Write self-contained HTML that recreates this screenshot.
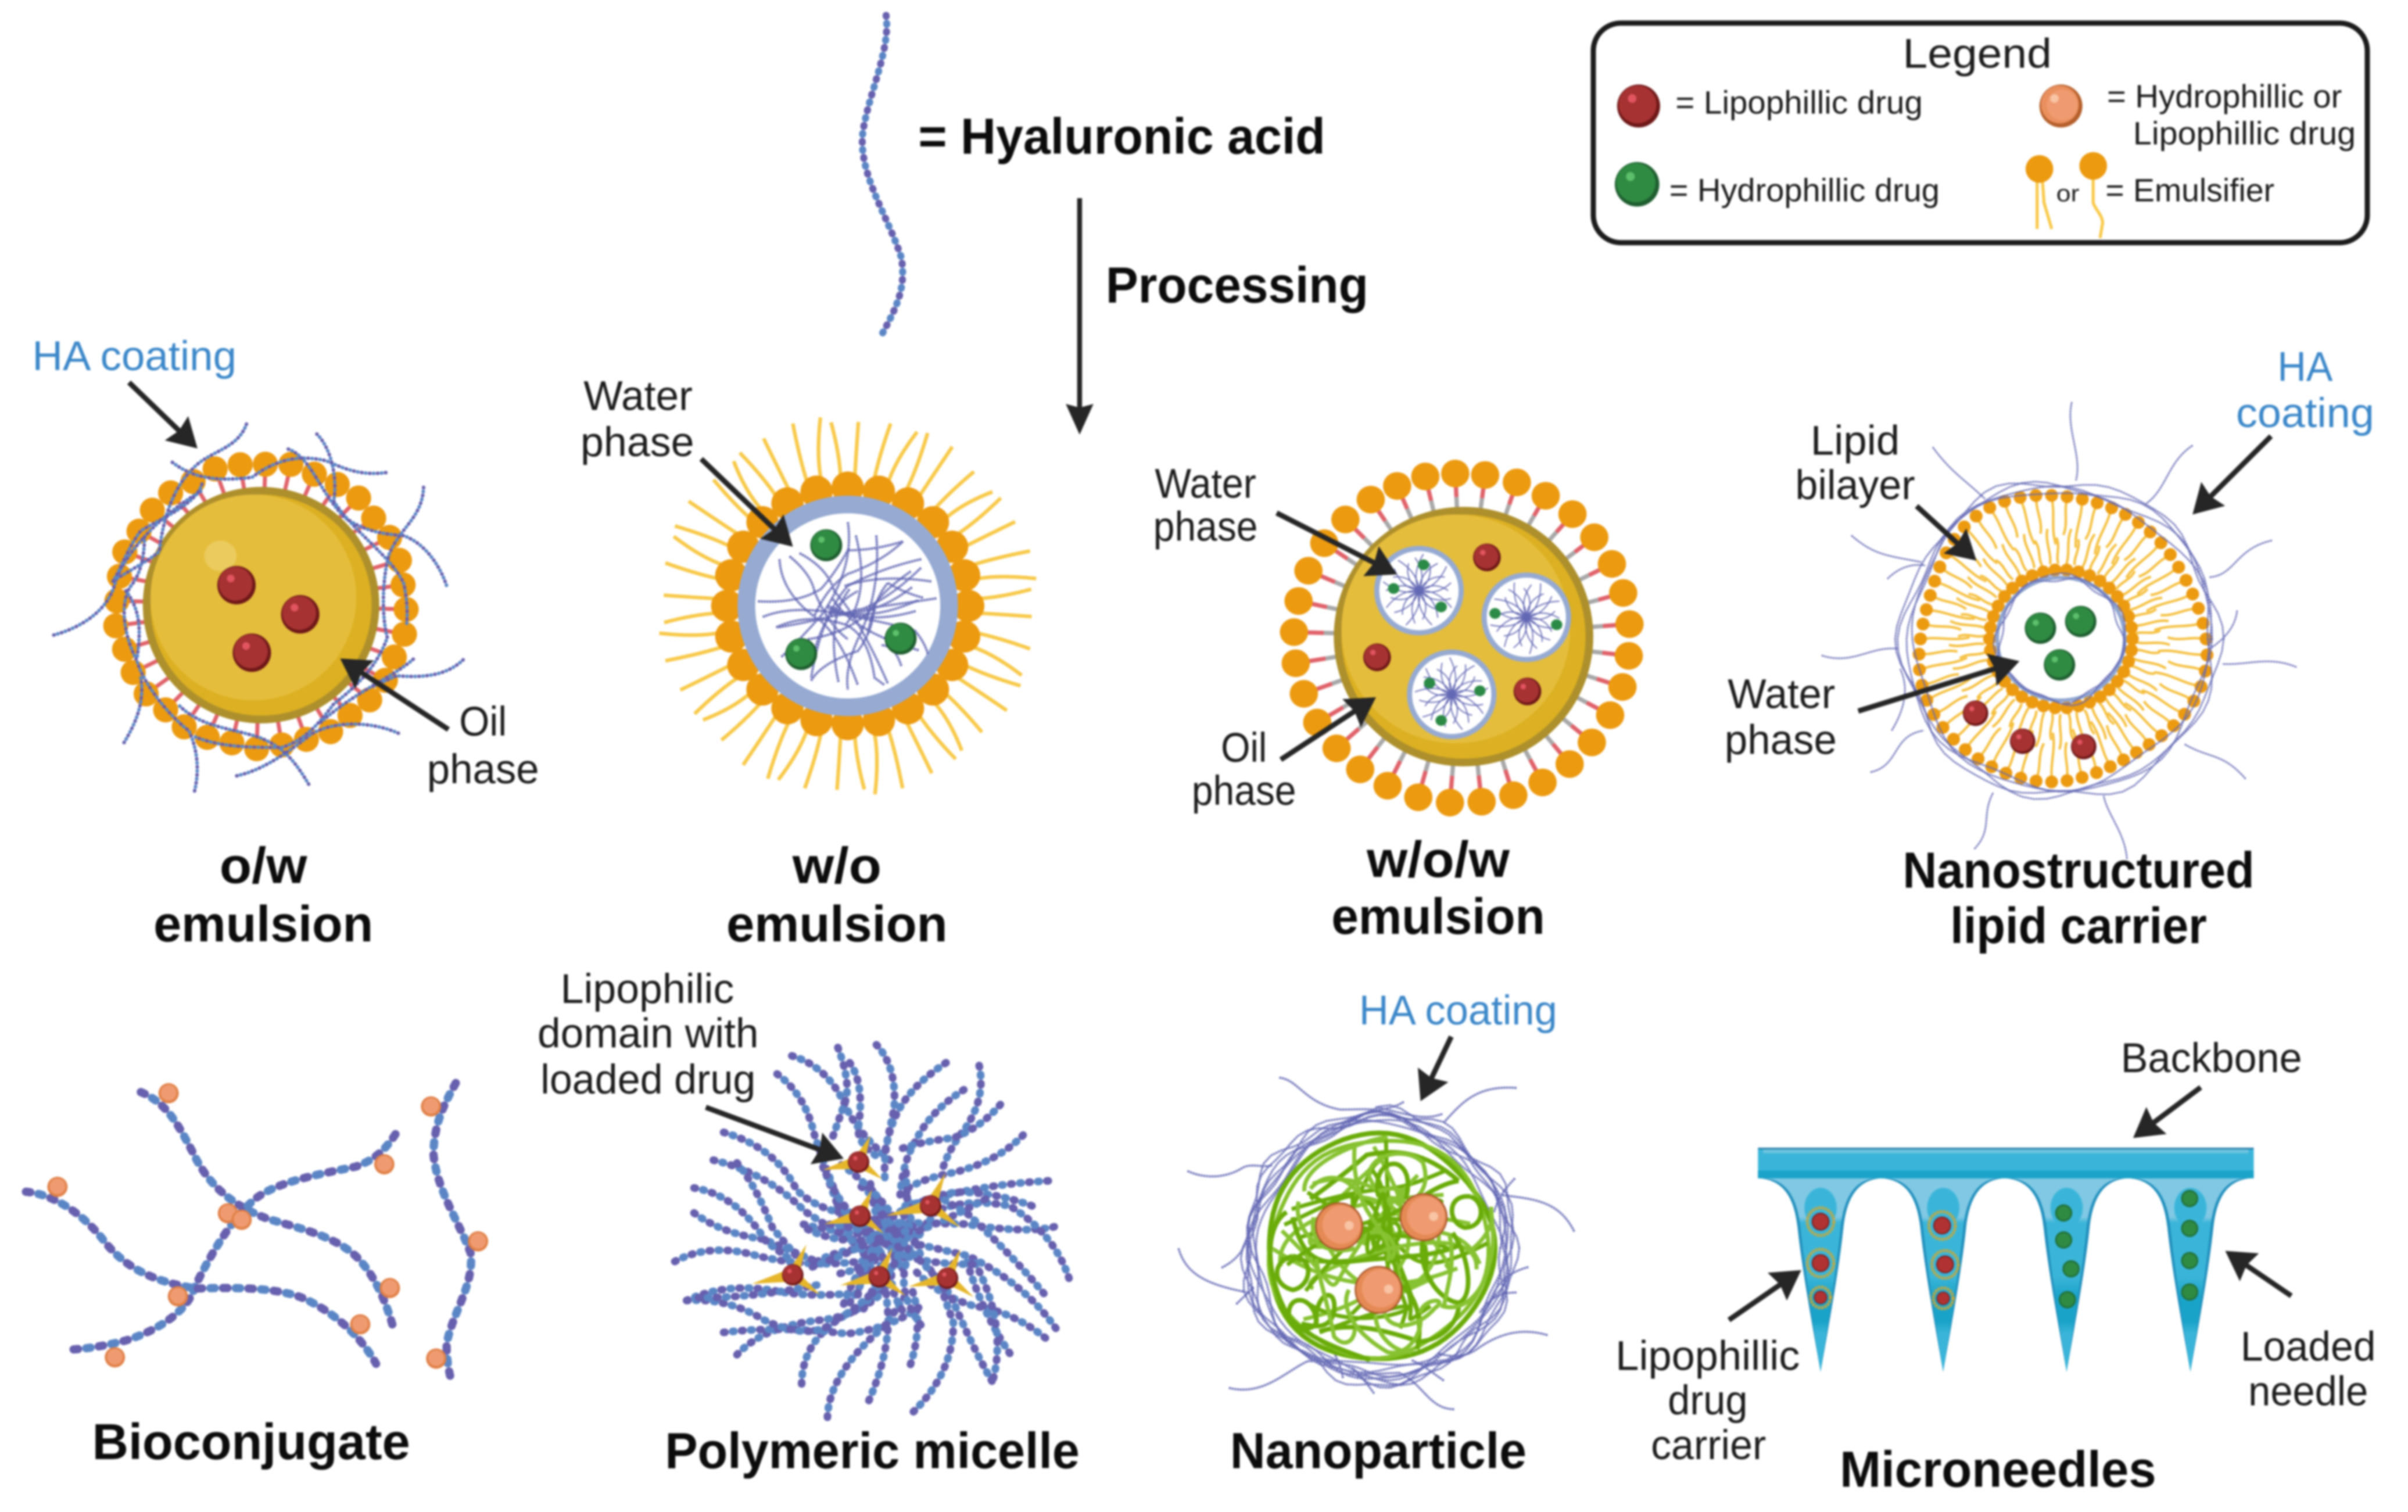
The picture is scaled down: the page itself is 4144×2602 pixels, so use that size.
<!DOCTYPE html>
<html><head><meta charset="utf-8"><title>Hyaluronic acid formulations</title>
<style>
html,body{margin:0;padding:0;background:#fff}
svg{display:block;width:4144px;height:2602px;filter:blur(1.5px)}
text{font-family:"Liberation Sans",sans-serif;fill:#1c1c1c;font-size:27px}
text.b{font-weight:bold;font-size:33px;fill:#0c0c0c}
text.h{fill:#3b87c9}
text.l{font-size:21px}
</style></head><body>
<svg id="s" xmlns="http://www.w3.org/2000/svg" viewBox="0 0 1568 984.5">
<defs>
<linearGradient id="ng" x1="0" y1="0" x2="0" y2="1">
<stop offset="0" stop-color="#80c8e4"/><stop offset=".2" stop-color="#80c8e4"/><stop offset=".23" stop-color="#3ab5d9"/><stop offset=".51" stop-color="#3ab5d9"/><stop offset=".61" stop-color="#1aa3c9"/><stop offset=".74" stop-color="#1aa3c9"/><stop offset=".8" stop-color="#3ab5d9"/><stop offset="1" stop-color="#3ab5d9"/>
</linearGradient>
</defs>
<rect width="1568" height="985" fill="#fff"/>
<g id="art"></g>
<g id="txt">
<text class="b" x="598" y="100" textLength="265" lengthAdjust="spacingAndGlyphs">= Hyaluronic acid</text>
<text class="b" x="720" y="197" textLength="171" lengthAdjust="spacingAndGlyphs">Processing</text>
<text class="h" x="21" y="241" textLength="133" lengthAdjust="spacingAndGlyphs">HA coating</text>
<text x="299" y="479" textLength="31" lengthAdjust="spacingAndGlyphs">Oil</text>
<text x="278" y="510" textLength="73" lengthAdjust="spacingAndGlyphs">phase</text>
<text x="380" y="267" textLength="71" lengthAdjust="spacingAndGlyphs">Water</text>
<text x="378" y="297" textLength="74" lengthAdjust="spacingAndGlyphs">phase</text>
<text x="752" y="324" textLength="66" lengthAdjust="spacingAndGlyphs">Water</text>
<text x="751" y="352" textLength="68" lengthAdjust="spacingAndGlyphs">phase</text>
<text x="795" y="496" textLength="30" lengthAdjust="spacingAndGlyphs">Oil</text>
<text x="776" y="524" textLength="68" lengthAdjust="spacingAndGlyphs">phase</text>
<text x="1179" y="296" textLength="58" lengthAdjust="spacingAndGlyphs">Lipid</text>
<text x="1169" y="325" textLength="78" lengthAdjust="spacingAndGlyphs">bilayer</text>
<text class="h" x="1483" y="248" textLength="36" lengthAdjust="spacingAndGlyphs">HA</text>
<text class="h" x="1456" y="278" textLength="90" lengthAdjust="spacingAndGlyphs">coating</text>
<text x="1125" y="461" textLength="70" lengthAdjust="spacingAndGlyphs">Water</text>
<text x="1123" y="491" textLength="73" lengthAdjust="spacingAndGlyphs">phase</text>
<text class="b" x="143" y="575" textLength="57" lengthAdjust="spacingAndGlyphs">o/w</text>
<text class="b" x="100" y="613" textLength="143" lengthAdjust="spacingAndGlyphs">emulsion</text>
<text class="b" x="516" y="575" textLength="58" lengthAdjust="spacingAndGlyphs">w/o</text>
<text class="b" x="473" y="613" textLength="144" lengthAdjust="spacingAndGlyphs">emulsion</text>
<text class="b" x="890" y="571" textLength="93" lengthAdjust="spacingAndGlyphs">w/o/w</text>
<text class="b" x="867" y="608" textLength="139" lengthAdjust="spacingAndGlyphs">emulsion</text>
<text class="b" x="1239" y="578" textLength="229" lengthAdjust="spacingAndGlyphs">Nanostructured</text>
<text class="b" x="1270" y="614" textLength="167" lengthAdjust="spacingAndGlyphs">lipid carrier</text>
<text x="1239" y="44" textLength="97" lengthAdjust="spacingAndGlyphs">Legend</text>
<text class="l" x="1091" y="74" textLength="161" lengthAdjust="spacingAndGlyphs">= Lipophillic drug</text>
<text class="l" x="1372" y="70" textLength="153" lengthAdjust="spacingAndGlyphs">= Hydrophillic or</text>
<text class="l" x="1389" y="94" textLength="145" lengthAdjust="spacingAndGlyphs">Lipophillic drug</text>
<text class="l" x="1087" y="131" textLength="176" lengthAdjust="spacingAndGlyphs">= Hydrophillic drug</text>
<text class="l" x="1339" y="131" style="font-size:15px" textLength="15" lengthAdjust="spacingAndGlyphs">or</text>
<text class="l" x="1371" y="131" textLength="110" lengthAdjust="spacingAndGlyphs">= Emulsifier</text>
<text x="365" y="653" textLength="113" lengthAdjust="spacingAndGlyphs">Lipophilic</text>
<text x="350" y="682" textLength="144" lengthAdjust="spacingAndGlyphs">domain with</text>
<text x="352" y="712" textLength="140" lengthAdjust="spacingAndGlyphs">loaded drug</text>
<text class="h" x="885" y="667" textLength="129" lengthAdjust="spacingAndGlyphs">HA coating</text>
<text x="1381" y="698" textLength="118" lengthAdjust="spacingAndGlyphs">Backbone</text>
<text x="1052" y="892" textLength="120" lengthAdjust="spacingAndGlyphs">Lipophillic</text>
<text x="1086" y="921" textLength="52" lengthAdjust="spacingAndGlyphs">drug</text>
<text x="1075" y="950" textLength="75" lengthAdjust="spacingAndGlyphs">carrier</text>
<text x="1459" y="886" textLength="88" lengthAdjust="spacingAndGlyphs">Loaded</text>
<text x="1464" y="915" textLength="78" lengthAdjust="spacingAndGlyphs">needle</text>
<text class="b" x="60" y="950" textLength="207" lengthAdjust="spacingAndGlyphs">Bioconjugate</text>
<text class="b" x="433" y="956" textLength="270" lengthAdjust="spacingAndGlyphs">Polymeric micelle</text>
<text class="b" x="801" y="956" textLength="193" lengthAdjust="spacingAndGlyphs">Nanoparticle</text>
<text class="b" x="1198" y="968" textLength="206" lengthAdjust="spacingAndGlyphs">Microneedles</text>
</g>
</svg>
<script>
(function(){
var NS="http://www.w3.org/2000/svg",art=document.getElementById("art"),K=4144/1568,seed=12345;
function rnd(){seed=(seed*16807)%2147483647;return seed/2147483647}
function el(t,a){var e=document.createElementNS(NS,t);for(var k in a)e.setAttribute(k,a[k]);art.appendChild(e);return e}
function crop(x0,y0,w,h){var sx=w/1568/K,sy=h/1568/K,ox=x0/K,oy=y0/K;
 return {pt:function(x,y){return [ox+x*sx,oy+y*sy]},
 d:function(s){return s.replace(/(-?\d+\.?\d*)\s+(-?\d+\.?\d*)/g,function(m,a,b){return (ox+a*sx).toFixed(1)+" "+(oy+b*sy).toFixed(1)})}}}
function chain(d,w,per,c1,c2){var dl=Math.max(.01,per/2-w),g=per-dl;
 el("path",{d:d,fill:"none",stroke:c1||"#6660ae","stroke-width":w,"stroke-linecap":"round","stroke-dasharray":dl+" "+g});
 el("path",{d:d,fill:"none",stroke:c2||"#5b86c6","stroke-width":w,"stroke-linecap":"round","stroke-dasharray":dl+" "+g,"stroke-dashoffset":-per/2});}
function fine(d,w){el("path",{d:d,fill:"none",stroke:"#6368b4","stroke-width":w||1.1,"stroke-dasharray":"1.4 .4"})}
function ell(x,y,rx,ry,f,extra){var a={cx:x,cy:y,rx:rx,ry:ry,fill:f};if(extra)for(var k in extra)a[k]=extra[k];return el("ellipse",a)}
function drug(x,y,r,kind,hx){var c={r:["#6f1818","#a63232","#e25560"],g:["#1f5e30","#2f8a42","#5cbf6a"],o:["#b5602c","#ea8f5e","#f8c4a4"]}[kind];
 ell(x,y,r,r,c[0]);ell(x-.05*r,y-.07*r,r*.88,r*.88,c[1]);
 if(kind=="o")ell(x+.06*r,y-.04*r,r*.72,r*.72,"#ef9a70");
 var h=hx===undefined?-.3:hx;ell(x+h*r,y-.35*r,r*.2,r*.2,c[2]);}
function arrow(x1,y1,x2,y2,w,hl,hw){w=w||3.4;hl=hl||19;hw=hw||11;var dx=x2-x1,dy=y2-y1,L=Math.sqrt(dx*dx+dy*dy),u=dx/L,v=dy/L;
 el("line",{x1:x1,y1:y1,x2:x2-u*hl*.7,y2:y2-v*hl*.7,stroke:"#262626","stroke-width":w});
 var bx=x2-u*hl,by=y2-v*hl,nx=x2-u*hl*.88,ny=y2-v*hl*.88;
 el("polygon",{points:x2+","+y2+" "+(bx-v*hw)+","+(by+u*hw)+" "+nx+","+ny+" "+(bx+v*hw)+","+(by-u*hw),fill:"#262626"});}
function wobble(cx,cy,r,amp,p,f1,f2){var s="";for(var i=0;i<=80;i++){var a=i/80*6.2832,q=r+amp*Math.sin(f1*a+p)+amp*.6*Math.sin(f2*a+p*2.1);s+=(i?"L":"M")+(cx+q*Math.cos(a)).toFixed(1)+" "+(cy+q*Math.sin(a)).toFixed(1)+" ";}return s+"Z"}
function emulsCore(cx,cy,r){ell(cx,cy,r,r,"#ad8f2c");ell(cx,cy,r-5,r-5,"#dcb022");ell(cx-5,cy-5,r-10,r-10,"#e5bd3c");}

/* top HA chain */
chain("M577 10 C580 32 566 60 562 85 C558 112 578 140 587 168 C590 188 584 200 573 220",4.6,10.5);

/* legend */
el("rect",{x:1037.5,y:15,width:504,height:143,rx:18,ry:18,fill:"#fff",stroke:"#1c1c1c","stroke-width":3.4});
drug(1067,69,14,"r");drug(1342,69,14,"o");drug(1066,120,14.5,"g");
["M1326.5 118 L1326.5 149","M1330 118 L1331 132 L1336 149","M1363 116 L1363 132 C1364 136 1370 141 1369 146 L1367.5 155"].forEach(function(a){el("path",{d:a,fill:"none",stroke:"#f8c94a","stroke-width":2})});
ell(1328,110,9,9,"#ec9a10");ell(1363,108,9,9,"#ec9a10");

/* o/w emulsion */
(function(){var cx=170,cy=394,C=crop(0,500,1000,900),i,a,n=36;
 for(i=0;i<n;i++){a=i/n*6.2832+.03;var j=1+.012*Math.sin(i*2.3);
  var bx=cx+94.5*j*Math.cos(a),by=cy+92.5*j*Math.sin(a);
  el("line",{x1:cx+74*Math.cos(a),y1:cy+74*Math.sin(a),x2:bx,y2:by,stroke:"#e0626a","stroke-width":2.6});
  ell(bx,by,8.2,8.2,"#ec9a10");}
 emulsCore(cx,cy,77);
 ell(143.5,362,10.5,10,"#ecd06a",{opacity:.75});
 drug(154,381,12.5,"r");drug(195.5,400,12.5,"r");drug(164,425,12.5,"r");
 ["M145 1033 C220 1010 290 960 310 880 C330 800 420 680 545 600",
 "M665 400 C640 480 560 480 515 540 C470 590 440 680 430 780 C420 800 300 870 300 875",
 "M465 515 C530 570 600 570 680 560 C740 510 800 490 880 510 C940 540 980 555 1045 545",
 "M778 475 C840 500 860 600 930 680 C980 720 1030 730 1090 735 C1150 760 1190 830 1207 892",
 "M855 430 C900 480 910 580 900 630 C950 720 1060 800 1090 880 C1100 930 1100 980 1097 1005",
 "M1143 590 C1140 680 1080 710 1050 790 C1030 870 1030 980 1045 1040 C1020 1120 970 1180 900 1240 C860 1300 820 1350 760 1370 C680 1370 590 1370 520 1335",
 "M1250 1107 C1200 1160 1130 1160 1070 1155 C1040 1170 1020 1180 1000 1190",
 "M1115 1105 C1060 1160 960 1200 860 1300",
 "M1075 1327 C1000 1290 900 1290 840 1330 C760 1400 700 1440 638 1455",
 "M525 1500 C540 1430 530 1370 510 1320 C440 1260 380 1160 370 1110 C340 1050 320 950 350 890 C380 850 390 800 390 730",
 "M335 1355 C370 1290 390 1230 380 1160",
 "M833 1480 C800 1420 770 1370 700 1340 C620 1310 540 1310 480 1240",
 "M545 580 C530 640 440 680 380 720 C340 780 330 830 300 880",
 "M340 900 C380 960 380 1020 370 1100"].forEach(function(s){chain(C.d(s),2.3,5.2)});
})();

/* w/o emulsion */
(function(){var cx=552,cy=394.5,C=crop(1000,600,900,800),i,a,n=24;
 for(i=0;i<n;i++){a=i/n*6.2832-1.5708;
  [-.055,.055].forEach(function(o,k){var a1=a+o,a2=a+o*(k?1.6:1.1)+(i%2?.03:-.03);
   var r0=84,r1=120+(i%3)*2;
   el("path",{d:"M"+(cx+r0*Math.cos(a1))+" "+(cy+r0*Math.sin(a1))+" Q"+(cx+(r0+16)*Math.cos(a1))+" "+(cy+(r0+16)*Math.sin(a1))+" "+(cx+r1*Math.cos(a2))+" "+(cy+r1*Math.sin(a2)),fill:"none",stroke:"#f8c94a","stroke-width":2.4});});
  ell(cx+78.5*Math.cos(a),cy+77*Math.sin(a),10.5,10.5,"#ec9a10");}
 el("circle",{cx:cx,cy:cy,r:66,fill:"#fff",stroke:"#96aad2","stroke-width":11.5});
 ["M800 585 Q820 740 720 900 Q640 1000 600 1040","M885 630 Q900 820 830 980 Q790 1080 800 1150",
 "M965 650 Q900 720 800 760 Q740 800 700 900","M1020 710 Q900 740 800 800 Q720 900 690 1110","M1050 785 Q900 760 790 800",
 "M1065 842 Q960 860 830 880 Q700 920 590 940","M530 852 Q650 860 720 810 Q760 760 800 680 Q880 680 965 650",
 "M545 905 Q640 860 800 900 Q900 920 1000 950 Q1030 990 1040 1030","M585 940 Q680 890 790 930 Q860 960 880 1110 L910 1135",
 "M595 710 Q600 830 720 920 Q780 980 830 1135","M625 700 Q690 760 700 820 Q740 930 800 980","M655 690 Q740 740 760 820 Q830 900 920 1130",
 "M690 1120 Q720 1060 830 1020 Q870 960 880 880","M1025 840 Q960 820 920 790 Q880 840 860 960","M680 980 Q800 960 870 880 Q900 820 990 750","M960 1070 Q940 1000 900 1000"].forEach(function(s){fine(C.d(s),1.5)});
 for(i=0;i<8;i++){var t=rnd()*6.283,r=200+rnd()*70,m=t+.9;
  fine(C.d("M"+(800+r*Math.cos(t)).toFixed(0)+" "+(870+r*Math.sin(t)).toFixed(0)+" Q"+(800+80*Math.cos(m)).toFixed(0)+" "+(870+80*Math.sin(m)).toFixed(0)+" "+(800-60*Math.cos(t)).toFixed(0)+" "+(870-60*Math.sin(t)).toFixed(0)),1.5);}
 [[735,663],[660,1030],[958,978]].forEach(function(p){var q=C.pt(p[0],p[1]);drug(q[0],q[1],10.4,"g")});
})();

/* w/o/w emulsion */
(function(){var C=crop(1950,700,950,800),cx=953,cy=414.5;
 var B=[[915,225],[1000,230],[1090,255],[1172,300],[1248,362],[1310,440],[1360,530],[1392,628],[1410,733],[1408,840],[1390,945],[1355,1040],[1303,1132],[1240,1205],[1163,1267],[1080,1310],[990,1332],[900,1335],[810,1317],[723,1278],[645,1223],[578,1152],[523,1065],[485,968],[462,865],[457,760],[470,655],[498,553],[543,460],[603,380],[675,313],[750,267],[830,235]];
 B.forEach(function(p){var q=C.pt(p[0],p[1]),dx=q[0]-cx,dy=q[1]-cy,L=Math.sqrt(dx*dx+dy*dy),u=dx/L,v=dy/L;
  el("line",{x1:cx+80*u,y1:cy+80*v,x2:cx+91*u,y2:cy+91*v,stroke:"#a8a8a8","stroke-width":2.8});
  el("line",{x1:cx+91*u,y1:cy+91*v,x2:q[0],y2:q[1],stroke:"#e0626a","stroke-width":2.8});
  ell(q[0],q[1],9.2,9,"#ec9a10");});
 emulsCore(cx,cy,84.5);
 [[812,620],[1117,710],[905,970]].forEach(function(p,n){var q=C.pt(p[0],p[1]);
  el("circle",{cx:q[0],cy:q[1],r:27.5,fill:"#fff",stroke:"#96aad2","stroke-width":3.4});
  for(var i=0;i<26;i++){var a=i/26*6.2832+n,r=19+(i%3)*2.5,b=a+.55*(i%2?1:-1);
   el("path",{d:"M"+q[0]+" "+q[1]+" Q"+(q[0]+12*Math.cos(b))+" "+(q[1]+12*Math.sin(b))+" "+(q[0]+r*Math.cos(a))+" "+(q[1]+r*Math.sin(a)),fill:"none",stroke:"#6368b4","stroke-width":.7});}
 });
 [[825,533],[740,613],[875,675],[1028,697],[1203,735],[842,932],[985,958],[875,1058]].forEach(function(p){var q=C.pt(p[0],p[1]);ell(q[0],q[1],3.7,3.5,"#2b8a46")});
 [[1005,508],[693,845],[1120,960]].forEach(function(p){var q=C.pt(p[0],p[1]);drug(q[0],q[1],9,"r")});
})();

/* NLC */
(function(){var C=crop(3000,600,1144,900),cx=1341,cy=416,i,a,n=58;
 function R(t){return 93+3*Math.sin(3*t+1)+1.5*Math.sin(5*t)}
 for(i=0;i<n;i++){a=i/n*6.2832;var r=R(a)-2,u=Math.cos(a),v=Math.sin(a),s=i%2?1.7:-1.7;
  var len=i%2?30:23;
  function lp(rr,o){return (cx+rr*u-o*v).toFixed(1)+" "+(cy+rr*v+o*u).toFixed(1)}
  el("path",{d:"M"+lp(r,0)+" C"+lp(r-len*.33,s)+" "+lp(r-len*.66,-s)+" "+lp(r-len,s*.6),fill:"none",stroke:"#f5c040","stroke-width":1.6});
  var a2=a+.04;u=Math.cos(a2);v=Math.sin(a2);r=49;len=i%2?17:23;
  el("path",{d:"M"+lp(r,0)+" C"+lp(r+len*.33,-s)+" "+lp(r+len*.66,s)+" "+lp(r+len,-s*.6),fill:"none",stroke:"#f5c040","stroke-width":1.6});
 }
 for(i=0;i<n;i++){a=i/n*6.2832;var q=R(a);ell(cx+q*Math.cos(a),cy+q*Math.sin(a),4.2,4.2,"#ec9a10");}
 for(i=0;i<38;i++){a=i/38*6.2832;ell(cx+1+46.5*Math.cos(a),cy+45*Math.sin(a),4.2,4.2,"#ec9a10");}
 el("ellipse",{cx:cx+1,cy:cy,rx:41.5,ry:40,fill:"#fff",stroke:"#8fa5d0","stroke-width":2.4});
 fine(wobble(cx+1,cy,40,1.5,.4,5,9),1);fine(wobble(cx+1,cy,41,2,2.4,4,7),1);
 [2,3.5,5.2,1.1].forEach(function(p,k){fine(wobble(cx,cy,97+k*2,3,p,3+k,7+k),1)});
 ["M775 160 C760 240 800 320 785 395","M447 295 C490 370 520 390 570 450","M1060 290 C1000 340 1000 420 950 465","M255 560 C310 620 340 620 420 640","M1247 575 C1160 600 1160 680 1100 685","M185 920 C260 950 300 890 365 900","M1305 955 C1240 920 1190 950 1130 945","M300 1270 C370 1250 350 1160 425 1145","M1185 1290 C1130 1210 1100 1230 1040 1185","M545 1500 C590 1440 560 1400 590 1330","M905 1530 C900 1450 860 1400 850 1340","M340 690 Q380 640 430 650","M1165 785 Q1160 850 1100 900","M350 1145 Q400 1040 370 960"].forEach(function(s){fine(C.d(s),1)});
 [[701,838],[796,818],[746,948]].forEach(function(p){var q=C.pt(p[0],p[1]);drug(q[0],q[1],10.2,"g")});
 [[548,1093],[659,1177],[803,1193]].forEach(function(p){var q=C.pt(p[0],p[1]);drug(q[0],q[1],8.3,"r")});
})();

/* Bioconjugate */
(function(){var C=crop(0,1800,1000,700);
 ["M380 178 C450 220 480 300 520 410 C560 530 620 610 720 665 C800 700 900 730 960 810 C1010 880 1040 980 1060 1080",
 "M1067 340 C1040 400 1010 440 960 465 C880 490 740 520 680 600 C620 680 570 800 525 930 C510 1010 440 1090 340 1135 C300 1150 250 1165 195 1170",
 "M70 562 C140 570 220 640 280 750 C340 860 420 910 530 935 C640 930 760 930 830 980 C900 1030 970 1110 1015 1225",
 "M1230 143 C1200 220 1170 300 1170 420 C1180 560 1240 680 1270 800 C1280 920 1220 1030 1205 1150 C1205 1200 1210 1250 1217 1285"].forEach(function(s){chain(C.d(s),5.4,16.5)});
 [[455,182],[155,543],[1037,456],[615,645],[652,670],[480,965],[310,1200],[1052,933],[972,1073],[1163,233],[1290,753],[1177,1205]].forEach(function(p){var q=C.pt(p[0],p[1]);
  ell(q[0],q[1],6.6,6.6,"#e07f45");ell(q[0],q[1]-.3,5.2,5.2,"#ef9a70");});
})();

/* Polymeric micelle */
(function(){var C=crop(1100,1750,800,750),i;
 ["M515 140 Q640 180 700 330 Q740 420 850 520","M670 110 Q720 250 690 320 Q670 380 650 440","M710 165 Q760 240 740 390 Q730 450 800 500","M465 205 Q560 280 590 420 Q620 520 680 680","M800 100 Q870 180 860 330 L830 480","M1035 165 Q900 260 860 370 Q820 470 830 600","M1095 262 Q980 340 930 450 Q890 520 880 640","M1147 175 Q1170 290 1100 400 Q1040 480 1020 560","M1218 315 Q1150 400 1060 435 Q940 450 870 480","M1295 425 Q1210 520 1060 560 Q960 580 900 620","M1380 590 Q1200 600 1040 640 L900 680","M1325 680 Q1200 630 1070 630 Q950 650 850 720","M1400 755 Q1300 780 1100 745 L880 740","M1450 940 Q1400 780 1250 680 Q1100 650 1000 700","M1365 995 Q1260 860 1110 710 L1000 640","M1405 1120 Q1300 960 1110 860 L950 820","M1370 1155 Q1260 1060 1130 1040 Q1000 1000 920 900","M1250 1210 Q1150 1050 1100 860","M1190 1310 Q1120 1180 1050 1000 L960 880","M1195 1300 Q1240 1100 1130 880","M925 1420 Q1060 1280 1060 1100 L1010 950","M915 1250 Q960 1100 920 980","M775 1380 Q840 1220 840 1080 L830 950","M635 1440 Q640 1280 830 1110 L900 1000","M548 1320 Q550 1160 700 1070 Q800 1030 850 900","M330 1215 Q420 1110 620 1090 Q760 1070 850 960","M285 1135 Q480 1110 700 1140 Q850 1120 950 1040","M160 1020 Q300 1010 420 1090 Q560 1160 640 1110","M160 1020 Q300 950 480 990 Q600 1010 760 990","M200 1010 Q400 1010 620 960","M120 880 Q240 810 400 860 Q600 910 800 870","M185 705 Q280 780 420 800 L620 890","M185 615 Q330 640 430 810 L520 880","M250 515 Q430 560 560 700 L720 810","M330 525 Q390 600 450 760 L530 860","M285 415 Q460 470 530 620 Q600 700 760 720","M620 540 Q660 640 700 780","M900 560 Q900 700 950 860","M780 600 Q800 800 900 920","M1000 700 L870 900","M720 800 Q770 860 800 950","M600 880 Q700 820 820 840"].forEach(function(s){chain(C.d(s),5,11.8)});
 for(i=0;i<26;i++){var t=rnd()*6.283,r=170+rnd()*200,m=t+.5-rnd();
  chain(C.d("M"+(860+r*Math.cos(t)).toFixed(0)+" "+(800+r*.9*Math.sin(t)).toFixed(0)+" Q"+(860+r*.5*Math.cos(m)).toFixed(0)+" "+(800+r*.5*Math.sin(m)).toFixed(0)+" "+(860+(rnd()*120-60)).toFixed(0)+" "+(800+(rnd()*120-60)).toFixed(0)),5,11.8);}
 [[740,522,1],[745,717,1],[983,680,1.25],[518,928,1.15],[810,935,1.1],[1040,940,1.1]].forEach(function(p){
  var x=p[0],y=p[1],k=p[2];
  [[40,-95],[-120,28],[80,62]].forEach(function(v){
   var tx=x+v[0]*k,ty=y+v[1]*k,ux=-v[1]*.2,uy=v[0]*.2;
   var a=C.pt(tx,ty),b=C.pt(x+ux,y+uy),c=C.pt(x-ux,y-uy);
   el("polygon",{points:a.join(",")+" "+b.join(",")+" "+c.join(","),fill:"#e6b62a"});});
  var q=C.pt(x,y);drug(q[0],q[1],7,"r");});
})();

/* Nanoparticle */
(function(){var C=crop(2000,1800,800,700),cx=898,cy=812.5,i;
 ["M395 122 C460 130 480 220 600 245 C660 245 700 240 740 250","M1195 162 C1060 150 1010 220 950 295","M85 482 C160 520 230 500 270 470 C300 450 340 470 370 460","M1390 715 C1340 600 1260 590 1145 575","M55 780 C80 880 150 920 290 950","M1300 1115 C1200 1080 1120 1120 1060 1170 C1020 1200 980 1200 930 1185","M225 1318 C340 1350 410 1260 490 1215 L600 1215","M985 1400 C900 1400 880 1300 800 1260 L680 1265","M815 215 C770 250 700 240 600 300","M945 262 C880 290 820 260 720 235","M200 855 C260 820 280 780 300 700","M250 995 C290 950 300 940 310 930","M1235 852 C1180 870 1130 900 1100 1000","M1195 950 C1130 950 1100 980 1070 1030","M1190 510 C1140 570 1130 600 1120 640","M715 1340 C690 1300 670 1270 640 1240","M610 1280 C600 1220 580 1180 560 1150","M950 1290 C900 1250 880 1230 840 1210"].forEach(function(s){fine(C.d(s),1.3)});
 [.3,1.9,3.3,4.7,5.6,2.6,.9,4.1].forEach(function(p,k){fine(wobble(cx,cy,80+k*1.1,3.5,p,3+k%4,6+k),1.2)});
 var dark=["M730 580 C710 470 770 440 800 460 C840 490 830 560 820 590","M1040 580 C960 570 960 680 1020 700 C1090 700 1090 600 1040 580","M440 810 C370 830 370 920 440 940 C500 930 520 820 440 810","M500 590 C560 540 640 470 690 420 C780 400 880 400 1000 520","M420 640 C340 700 350 900 430 1050 C500 1130 600 1170 700 1210","M440 660 C470 800 510 850 640 830 C780 810 900 820 1000 770","M880 750 C860 860 930 980 1000 990 C1050 970 1040 820 980 720","M430 1060 C410 960 500 950 520 1050 C530 1100 450 1100 430 1060","M520 1080 C510 950 590 920 580 1020 C570 1100 500 1080 470 1070","M530 1100 C650 1060 760 1100 870 1140 C950 1130 1000 1060 1000 1000","M800 920 C860 960 880 1060 860 1170","M640 570 C650 620 640 640 620 640","M720 780 C690 720 750 720 750 760 C740 790 700 780 720 780","M1000 520 C940 530 880 580 880 580"];
 var light=["M650 380 C640 500 670 600 700 650 C740 720 780 770 760 830","M700 520 C680 420 820 380 880 450 C900 520 880 560 860 580","M480 560 C470 470 620 380 760 350","M500 550 C560 470 640 520 660 570","M460 600 C440 700 530 820 650 780","M730 560 C800 530 830 570 800 590","M700 720 C780 700 800 800 770 820","M970 730 C990 860 960 920 950 1010","M630 940 C600 1000 640 1100 760 1180 C830 1200 880 1100 870 1050","M720 1040 C720 1100 770 1180 840 1180","M750 1030 C770 1100 860 1090 920 1010 C970 970 880 970 870 1030","M520 820 C530 900 560 1000 580 1120 C620 1170 650 1130 650 1090","M940 1000 C1010 1030 1080 960 1100 850 C1130 760 1110 680 1110 620","M1040 790 C1080 750 1100 720 1110 680"];
 el("path",{d:wobble(cx,cy,73.5,1.5,1,3,5),fill:"none",stroke:"#6aac0a","stroke-width":3.2});
 el("path",{d:wobble(cx,cy,71,2,3,2,5),fill:"none",stroke:"#84c02a","stroke-width":2.6});
 function P(){var t=rnd()*6.283,R=.3+.65*Math.sqrt(rnd());return (732+395*R*Math.cos(t)).toFixed(0)+" "+(778+440*R*Math.sin(t)).toFixed(0)}
 for(i=0;i<24;i++){el("path",{d:C.d("M"+P()+" C"+P()+" "+P()+" "+P()),fill:"none",stroke:i%2?"#6aac0a":"#87c232","stroke-width":2.6});}
 dark.forEach(function(s){el("path",{d:C.d(s),fill:"none",stroke:"#6aac0a","stroke-width":3})});
 light.forEach(function(s){el("path",{d:C.d(s),fill:"none",stroke:"#87c232","stroke-width":2.7})});
 [[597,695],[882,660],[730,940]].forEach(function(p){var q=C.pt(p[0],p[1]);
  ell(q[0],q[1],15.6,15.6,"#a8562a");ell(q[0],q[1],14.6,14.6,"#e58a55");ell(q[0]+1.5,q[1]-1,12.4,12.4,"#ef9a70");ell(q[0]+6.5,q[1]-.5,3,3,"#f8c4a4");});
})();

/* Microneedles */
(function(){var C=crop(2950,1900,1000,520);
 [287,618,951,1285].forEach(function(c){
  function n(ins){return C.d("M"+(c-168+ins*2)+" 385 C"+(c-105+ins)+" 392 "+(c-72+ins)+" 470 "+(c-62+ins)+" 640 C"+(c-50+ins)+" 860 "+(c-22+ins*.3)+" 1150 "+c+" 1390 C"+(c+22-ins*.3)+" 1150 "+(c+50-ins)+" 860 "+(c+62-ins)+" 640 C"+(c+72-ins)+" 470 "+(c+105-ins)+" 392 "+(c+165-ins*2)+" 385 Z")}
  el("path",{d:n(0),fill:"#2390bd"});
  el("path",{d:n(8),fill:"url(#ng)"});
  var d=C.pt(c,590);ell(d[0],d[1]-6.5,10.5,13,"#3ab5d9");
 });
 var r=function(x,y,x2,y2,f){var a=C.pt(x,y),b=C.pt(x2,y2);el("rect",{x:a[0],y:a[1],width:b[0]-a[0],height:b[1]-a[1],fill:f})};
 r(118,228,1456,385,"#3ab5d9");
 r(118,345,1456,385,"#1ba3c9");
 r(118,226,1456,235,"#2f7ea8");
 r(132,236,1442,255,"#6cc4e0");
 [[287,610,1],[287,825,1],[287,1003,.75],[615,630,1],[623,832,1],[618,1008,.75]].forEach(function(p){var q=C.pt(p[0],p[1]),k=p[2];
  ell(q[0],q[1],8.6*k,9*k,"none",{stroke:"#c8a838","stroke-width":2,"stroke-dasharray":"1.5 .6"});
  ell(q[0],q[1],5.8*k,5.8*k,"#7a1e1e");ell(q[0],q[1],5*k,5*k,"#b03232");});
 [[943,565],[943,705],[963,855],[953,1015],[1283,490],[1283,645],[1283,812],[1283,975]].forEach(function(p){var q=C.pt(p[0],p[1]);ell(q[0],q[1],5.6,5.6,"#1f6e38");ell(q[0],q[1],4.6,4.6,"#2f8a42");});
})();

/* arrows */
arrow(703,129,703,283,3.2,20,9);
arrow(84,249,128.6,292);arrow(292,475,221.5,428.8);
arrow(456.6,298.8,516.3,356);
arrow(831.3,334,909.7,374);arrow(834,494.6,896,454);
arrow(1478.8,284,1427.7,335);arrow(1248,329.5,1287,365);arrow(1210,463,1315,430.5);
arrow(459.6,721,549.4,754.4);
arrow(945,675,925,717);
arrow(1433,708,1389,741);arrow(1125.8,859.5,1172.9,827);arrow(1492,843.8,1449,814.5);
})();
</script>
</body></html>
